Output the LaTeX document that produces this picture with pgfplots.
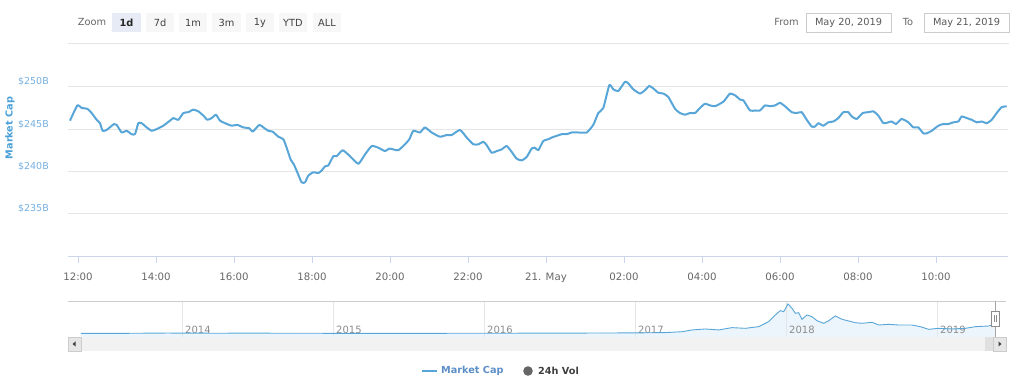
\documentclass[border=0pt]{standalone}
\usepackage{pgfplots}
\pgfplotsset{compat=1.18}
\usepackage{fontspec}
\setmainfont{DejaVu Sans}
\definecolor{lineblue}{RGB}{88,166,216}
\definecolor{ylab}{RGB}{118,176,224}
\definecolor{ytitle}{RGB}{74,160,216}
\definecolor{legblue}{RGB}{92,143,200}
\definecolor{gridc}{RGB}{230,230,230}
\definecolor{axisc}{RGB}{204,214,235}
\definecolor{tickc}{RGB}{102,102,102}
\definecolor{navfill}{RGB}{236,245,251}
\definecolor{btnbg}{RGB}{247,247,247}
\definecolor{btnsel}{RGB}{230,235,245}
\definecolor{scrollbg}{RGB}{242,242,242}
\definecolor{scrollbtn}{RGB}{230,230,230}
\begin{document}
\begin{tikzpicture}
\path[use as bounding box] (0,0) rectangle (1024pt,382pt);
% main axis
\begin{axis}[
  at={(68pt,126pt)}, anchor=south west,
  width=940pt, height=211.5pt, scale only axis,
  xmin=-0.256, xmax=23.846, ymin=230, ymax=255,
  axis x line=bottom, axis y line=left,
  axis line style={-},
  x axis line style={draw=axisc, line width=0.9pt},
  y axis line style={draw=none},
  xtick={0,2,4,6,8,10,12,14,16,18,20,22},
  xticklabels={12:00,14:00,16:00,18:00,20:00,22:00,{21. May},02:00,04:00,06:00,08:00,10:00},
  ytick={235,240,245,250},
  yticklabels={\$235B,\$240B,\$245B,\$250B},
  ymajorgrids, major grid style={draw=gridc, line width=0.9pt},
  tick align=outside,
  major tick length=7pt,
  xtick style={draw=axisc, line width=0.9pt},
  ytick style={draw=none},
  xticklabel style={font=\fontsize{10.2}{12}\selectfont, text=tickc, anchor=base, yshift=-17.5pt, inner sep=0pt},
  yticklabel style={font=\fontsize{9.5}{11}\selectfont, text=ylab, anchor=east, inner sep=0pt, xshift=-12pt, yshift=5pt},
  clip=false,
]
\addplot[lineblue, line width=2pt, line join=round, smooth, tension=0.3] coordinates {
(-0.205,246.0)(-0.017,247.8)(0.094,247.5)(0.239,247.4)(0.350,246.9)(0.479,246.1)(0.564,245.7)(0.632,244.8)(0.735,244.9)(0.923,245.6)(0.991,245.5)(1.120,244.6)(1.248,244.8)(1.376,244.4)(1.462,244.4)(1.547,245.7)(1.632,245.7)(1.761,245.2)(1.889,244.8)(2.017,245.0)(2.188,245.4)(2.359,246.0)(2.444,246.3)(2.573,246.1)(2.701,246.9)(2.829,247.0)(2.957,247.3)(3.085,247.1)(3.214,246.6)(3.316,246.1)(3.427,246.3)(3.538,246.7)(3.641,246.0)(3.769,245.7)(3.940,245.4)(4.085,245.5)(4.239,245.2)(4.393,245.1)(4.479,244.7)(4.650,245.5)(4.752,245.2)(4.880,244.8)(4.991,244.7)(5.137,244.1)(5.265,243.8)(5.350,242.8)(5.453,241.4)(5.538,240.8)(5.650,239.6)(5.735,238.7)(5.821,238.7)(5.906,239.5)(6.034,239.9)(6.162,239.8)(6.248,240.1)(6.333,240.6)(6.419,240.7)
(6.547,241.8)(6.633,241.8)(6.787,242.5)(6.974,241.8)(7.188,240.9)(7.359,242.0)(7.530,243.0)(7.701,242.8)(7.872,242.4)(7.983,242.7)(8.085,242.6)(8.214,242.5)(8.385,243.2)(8.496,243.8)(8.598,244.8)(8.769,244.6)(8.897,245.2)(9.068,244.6)(9.282,244.1)(9.453,244.3)(9.581,244.3)(9.795,244.9)(9.966,244.0)(10.137,243.2)(10.265,243.2)(10.393,243.5)(10.479,243.1)(10.607,242.2)(10.735,242.4)(10.863,242.6)(10.992,243.0)(11.120,242.3)(11.248,241.5)(11.376,241.3)(11.505,241.7)(11.633,242.7)(11.718,242.8)(11.803,242.5)(11.931,243.6)(12.060,243.8)(12.145,244.0)(12.274,244.2)(12.402,244.4)(12.530,244.4)(12.659,244.6)(12.828,244.6)(13.044,244.6)(13.213,245.5)(13.341,246.9)(13.470,247.5)(13.624,250.2)(13.726,249.7)(13.854,249.5)(14.026,250.6)(14.111,250.4)(14.239,249.7)(14.410,249.2)(14.538,249.6)(14.649,250.1)(14.752,249.8)(14.880,249.3)(15.008,249.2)(15.136,248.8)
(15.308,247.4)(15.436,246.9)(15.564,246.7)(15.692,246.9)(15.821,246.9)(15.949,247.5)(16.077,248.0)(16.205,247.8)(16.333,247.7)(16.462,248.0)(16.564,248.3)(16.718,249.2)(16.846,249.0)(16.974,248.5)(17.060,248.4)(17.231,247.2)(17.359,247.2)(17.487,247.2)(17.615,247.8)(17.744,247.7)(17.872,247.8)(18.000,248.1)(18.128,247.7)(18.300,247.0)(18.428,246.9)(18.556,247.0)(18.685,246.1)(18.813,245.3)(18.897,245.3)(18.983,245.7)(19.110,245.4)(19.239,245.8)(19.367,245.9)(19.495,246.3)(19.623,247.0)(19.751,247.0)(19.838,246.5)(19.967,246.2)(20.121,246.9)(20.264,247.0)(20.392,247.1)(20.521,246.6)(20.649,245.7)(20.777,245.8)(20.864,245.9)(20.974,245.6)(21.121,246.2)(21.290,245.8)(21.418,245.2)(21.546,245.2)(21.674,244.5)(21.762,244.5)(21.890,244.8)(22.059,245.4)(22.187,245.6)(22.315,245.6)(22.444,245.8)(22.572,245.9)(22.659,246.5)(22.787,246.3)(22.915,246.1)(23.044,245.8)(23.172,245.9)(23.300,245.7)(23.428,246.1)(23.556,246.9)(23.685,247.6)(23.813,247.7)
};
\end{axis}
% navigator axis
\begin{axis}[
  at={(68pt,45pt)}, anchor=south west,
  width=938pt, height=36pt, scale only axis,
  xmin=2013.245, xmax=2019.457, ymin=-98.6, ymax=915,
  axis lines=none,
  xtick=\empty, ytick=\empty,
  clip=true,
]
\addplot[draw=none, fill=navfill] coordinates {
(2013.331,0)(2013.331,1.5)(2013.6,4)(2013.9,13)(2014.2,8)(2014.5,9)(2015.0,5)(2015.5,4)(2016.0,7)(2016.5,10)(2017.0,17)(2017.2,25)(2017.311,50)(2017.377,100)(2017.466,127)(2017.554,100)(2017.642,165)(2017.731,146)(2017.819,192)(2017.885,333)(2017.929,521)(2017.962,643)(2017.985,614)(2018.013,831)(2018.040,710)(2018.062,569)(2018.084,586)(2018.106,400)(2018.139,521)(2018.172,473)(2018.205,361)(2018.250,287)(2018.283,361)(2018.326,493)(2018.371,400)(2018.415,352)(2018.459,304)(2018.503,287)(2018.570,315)(2018.614,239)(2018.680,259)(2018.746,239)(2018.834,239)(2018.889,192)(2018.945,118)(2019.011,146)(2019.099,127)(2019.188,146)(2019.254,192)(2019.342,211)(2019.364,239)(2019.384,245)(2019.384,-98.6)(2013.331,-98.6)
};
\pgfplotsinvokeforeach{2014,2015,2016,2017,2018,2019}{
  \draw[gridc, line width=0.9pt] (axis cs:#1,-98.6) -- (axis cs:#1,915);
  \node[anchor=base west, inner sep=0pt, font=\fontsize{10}{12}\selectfont, text=black!45] at (axis cs:#1,-98.6) [xshift=3pt, yshift=3.5pt] {#1};
}
\addplot[lineblue, line width=0.9pt] coordinates {
(2013.331,1.5)(2013.6,4)(2013.9,13)(2014.2,8)(2014.5,9)(2015.0,5)(2015.5,4)(2016.0,7)(2016.5,10)(2017.0,17)(2017.2,25)(2017.311,50)(2017.377,100)(2017.466,127)(2017.554,100)(2017.642,165)(2017.731,146)(2017.819,192)(2017.885,333)(2017.929,521)(2017.962,643)(2017.985,614)(2018.013,831)(2018.040,710)(2018.062,569)(2018.084,586)(2018.106,400)(2018.139,521)(2018.172,473)(2018.205,361)(2018.250,287)(2018.283,361)(2018.326,493)(2018.371,400)(2018.415,352)(2018.459,304)(2018.503,287)(2018.570,315)(2018.614,239)(2018.680,259)(2018.746,239)(2018.834,239)(2018.889,192)(2018.945,118)(2019.011,146)(2019.099,127)(2019.188,146)(2019.254,192)(2019.342,211)(2019.364,239)(2019.384,245)
};
\end{axis}
% decorations in pixel coordinates (y downward)
\begin{scope}[x=1pt, y=-1pt, shift={(0pt,382pt)}]
  % y-axis title
  \node[rotate=90, font=\bfseries\fontsize{9.7}{11}\selectfont, text=ytitle, inner sep=0pt] at (10,128) {Market Cap};
  % separator line under the range selector
  \draw[gridc, line width=0.8pt] (68,43) -- (1009,43);
  % zoom buttons
  \node[anchor=center, font=\fontsize{9.8}{11}\selectfont, text=tickc, inner sep=0pt] at (92,22.5) {Zoom};
  \fill[btnsel] (112,13) rectangle (141,32);
  \node[font=\bfseries\fontsize{9.8}{11}\selectfont, text=black!85, inner sep=0pt] at (126.5,22.5) {1d};
  \foreach \a/\b/\t in {146/174/7d, 179/207/1m, 212/241/3m, 246/274/1y, 279/307/YTD, 313/341/ALL}{
    \fill[btnbg] (\a,13) rectangle (\b,32);
    \node[font=\fontsize{9.8}{11}\selectfont, text=black!75, inner sep=0pt] at ({(\a+\b)/2},22.5) {\t};
  }
  % date inputs
  \node[font=\fontsize{9.8}{11}\selectfont, text=tickc, inner sep=0pt] at (786.5,22.5) {From};
  \draw[black!20, line width=0.7pt] (806,13) rectangle (891,32);
  \node[font=\fontsize{9.8}{11}\selectfont, text=black!65, inner sep=0pt] at (848.5,22.5) {May 20, 2019};
  \node[font=\fontsize{9.8}{11}\selectfont, text=tickc, inner sep=0pt] at (908,22.5) {To};
  \draw[black!20, line width=0.7pt] (924,13) rectangle (1009,32);
  \node[font=\fontsize{9.8}{11}\selectfont, text=black!65, inner sep=0pt] at (966.5,22.5) {May 21, 2019};
  % navigator outline
  \draw[black!20, line width=0.8pt] (68,301) -- (1006,301);
  \draw[black!35, line width=0.6pt] (995,301) -- (995,337);
  % scrollbar
  \fill[scrollbg] (68,337) rectangle (1006,351);
  \fill[black!12] (985,337) rectangle (994,351);
  \filldraw[fill=scrollbtn, draw=black!20, line width=0.5pt] (68,337) rectangle (81,351);
  \filldraw[fill=scrollbtn, draw=black!20, line width=0.5pt] (993,337) rectangle (1006,351);
  \fill[black!75] (72.5,344) -- (75.5,341.5) -- (75.5,346.5) -- cycle;
  \fill[black!75] (1001.5,344) -- (998.5,341.5) -- (998.5,346.5) -- cycle;
  % handle
  \filldraw[fill=white, draw=black!45, line width=0.6pt] (991,311) rectangle (999,326);
  \draw[black!45, line width=0.6pt] (994,315) -- (994,322) (996,315) -- (996,322);
  % legend
  \draw[lineblue, line width=1.8pt] (422,371) -- (437,371);
  \node[anchor=west, font=\bfseries\fontsize{9.7}{11}\selectfont, text=legblue, inner sep=0pt] at (441,371) {Market Cap};
  \fill[black!60] (528,371) circle (4.8);
  \node[anchor=west, font=\bfseries\fontsize{9.7}{11}\selectfont, text=black!75, inner sep=0pt] at (538,371) {24h Vol};
\end{scope}
\end{tikzpicture}
\end{document}
